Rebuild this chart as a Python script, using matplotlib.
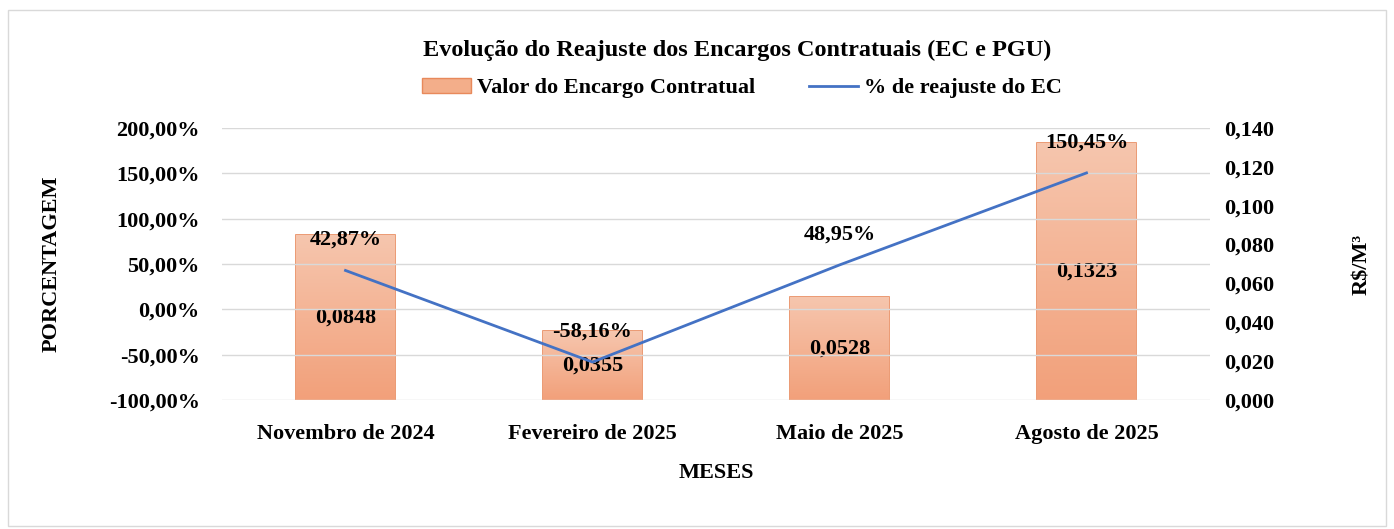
import numpy as np
import matplotlib.pyplot as plt
from matplotlib.colors import LinearSegmentedColormap
from matplotlib.patches import Rectangle
from matplotlib.lines import Line2D

plt.rcParams['font.family'] = ['Liberation Serif', 'DejaVu Serif']
plt.rcParams['font.weight'] = 'bold'

# data
meses = ['Novembro de 2024', 'Fevereiro de 2025', 'Maio de 2025', 'Agosto de 2025']
valor_ec = [0.0848, 0.0355, 0.0528, 0.1323]
reajuste = [42.87, -58.16, 48.95, 150.45]
left_ticks = [-100, -50, 0, 50, 100, 150, 200]
right_ticks = [0.0, 0.02, 0.04, 0.06, 0.08, 0.10, 0.12, 0.14]

FS = 16


def br(v, nd):
    return f"{v:.{nd}f}".replace('.', ',')


fig = plt.figure(figsize=(13.94, 5.29), dpi=100)
fig.patches.append(Rectangle((8 / 1394, 3 / 529), 1378 / 1394, 516 / 529,
                             transform=fig.transFigure, fill=False,
                             edgecolor='#D9D9D9', linewidth=1.0))

ax = fig.add_axes([222 / 1394, 1 - 400 / 529, 988 / 1394, 272 / 529])
ax2 = ax.twinx()
ax.set_zorder(ax2.get_zorder() + 1)
ax.patch.set_visible(False)

x = np.arange(len(meses))

# bars on the right axis (R$/M3), with a soft vertical gradient
bars = ax2.bar(x, valor_ec, width=0.4, color='#F3AE8A', edgecolor='#E8895B',
               linewidth=1.2, zorder=2)
cmap = LinearSegmentedColormap.from_list('ec', ['#F2A07A', '#F6C6AE'])
grad = np.linspace(0, 1, 256).reshape(-1, 1)
for b in bars:
    x0, y0 = b.get_x(), b.get_y()
    w, h = b.get_width(), b.get_height()
    im = ax2.imshow(grad, extent=[x0, x0 + w, y0, y0 + h], origin='lower',
                    aspect='auto', cmap=cmap, zorder=2.5)
    im.set_clip_path(b)
for xi, v in zip(x, valor_ec):
    ax2.text(xi, v / 2, br(v, 4), ha='center', va='center', fontsize=FS,
             fontweight='bold', zorder=4)

ax2.set_ylim(0, 0.14)
ax2.set_yticks(right_ticks)
ax2.set_yticklabels([br(t, 3) for t in right_ticks])
ax2.set_ylabel('R$/M³', fontsize=FS, fontweight='bold', labelpad=56)
ax.set_xlim(-0.5, len(meses) - 0.5)
ax2.set_xlim(-0.5, len(meses) - 0.5)

# line on the left axis (percent)
ax.plot(x, reajuste, color='#4472C4', linewidth=2.0, zorder=3)
for xi, v in zip(x, reajuste):
    ax.annotate(br(v, 2) + '%', (xi, v), xytext=(0, 22), textcoords='offset points',
                ha='center', va='center', fontsize=FS, fontweight='bold')

ax.set_ylim(-100, 200)
ax.set_yticks(left_ticks)
ax.set_yticklabels([br(t, 2) + '%' for t in left_ticks])
ax.grid(axis='y', color='#D9D9D9', linewidth=1.0)
ax.set_axisbelow(True)
ax.set_xticks(x)
ax.set_xticklabels(meses)
ax.set_ylabel('PORCENTAGEM', fontsize=FS, fontweight='bold', labelpad=34)
ax.set_xlabel('MESES', fontsize=FS, fontweight='bold', labelpad=14)

for a in (ax, ax2):
    for s in a.spines.values():
        s.set_visible(False)
    a.tick_params(length=0, labelsize=FS)
ax.tick_params(axis='y', pad=16)
ax.tick_params(axis='x', pad=17)
ax2.tick_params(axis='y', pad=10)

fig.text(737 / 1394, 1 - 50 / 529, 'Evolução do Reajuste dos Encargos Contratuais (EC e PGU)',
         ha='center', va='center', fontsize=17.5, fontweight='bold')

handles = [Rectangle((0, 0), 1, 1, facecolor='#F3AE8A', edgecolor='#E8895B'),
           Line2D([0], [0], color='#4472C4', linewidth=2.0)]
fig.legend(handles, ['Valor do Encargo Contratual', '% de reajuste do EC'],
           loc='center', bbox_to_anchor=(742 / 1394, 1 - 88 / 529), ncol=2,
           frameon=False, fontsize=FS, handlelength=2.2, handletextpad=0.3,
           columnspacing=2.4)

fig.savefig('out.png', dpi=100)
